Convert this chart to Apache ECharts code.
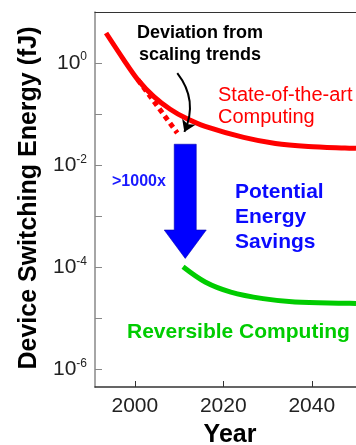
<!DOCTYPE html>
<html><head><meta charset="utf-8">
<script src="https://cdn.jsdelivr.net/npm/echarts@6/dist/echarts.min.js"></script>
<style>html,body{margin:0;padding:0;background:#fff}#c{width:356px;height:445px}</style>
</head><body><div id="c"></div>
<script>
// State-of-the-art computing (solid red)
const stateYears  = [1993.5, 1997.5, 2000.7, 2004.3, 2008.0, 2011.6, 2015.9, 2024.6, 2031.8, 2039.2, 2047.5, 2050];
const stateEnergy = [3.88, 1.16, 0.471, 0.221, 0.125, 0.0828, 0.0576, 0.0351, 0.0267, 0.0234, 0.0218, 0.0215];
// Scaling-trend extrapolation (dotted red)
const trendYears  = [2000.7, 2009.6];
const trendEnergy = [0.471, 0.043];
// Reversible computing (green)
const revYears  = [2010.9, 2015.9, 2021.7, 2029.0, 2036.2, 2047.7, 2050];
const revEnergy = [1.03e-4, 5.2e-5, 3.3e-5, 2.45e-5, 2.11e-5, 2.0e-5, 1.98e-5];
// Axes
const xTickYears  = [2000, 2020, 2040];
const yTickValues = [1e-6, 1e-5, 1e-4, 1e-3, 1e-2, 1e-1, 1];
const yLabelValues = [1e-6, 1e-4, 1e-2, 1];
// Annotation arrows: [year, shaft top, head base, tip]
const savingsArrow = [2011.4, 0.0258, 5.4e-4, 1.5e-4];
const deviationArrow = [[2009.6, 0.637], [2011.2, 0.045]];

const FONT = '"Liberation Sans", Arial, Helvetica, sans-serif';
const zip = (a, b) => a.map((v, i) => [v, b[i]]);

const chart = echarts.init(document.getElementById('c'), null, {renderer: 'canvas'});
chart.setOption({
  animation: false,
  backgroundColor: '#fff',
  grid: {left: 95, top: 12, bottom: 58, right: -10.5, containLabel: false},
  xAxis: [{
    type: 'value', min: 1991, max: 2050,
    axisLine: {show: true, lineStyle: {color: '#333', width: 1.5}},
    axisTick: {show: true, inside: true, length: 6, customValues: xTickYears, lineStyle: {color: '#333', width: 1}},
    axisLabel: {customValues: xTickYears, formatter: v => String(v), color: '#222', fontFamily: FONT, fontSize: 21, margin: 9},
    splitLine: {show: false}
  }, {
    type: 'value', min: 1991, max: 2050, position: 'top',
    axisLine: {show: true, onZero: false, lineStyle: {color: '#333', width: 1.2}},
    axisTick: {show: false}, axisLabel: {show: false}, splitLine: {show: false}
  }],
  yAxis: {
    type: 'log', logBase: 10, min: 4.57e-7, max: 10,
    axisLine: {show: true, lineStyle: {color: '#888', width: 1.5}},
    axisTick: {show: true, inside: true, length: 7, customValues: yTickValues, lineStyle: {color: '#888', width: 1}},
    axisLabel: {
      customValues: yLabelValues, margin: 8,
      formatter: v => '{b|10}{s|' + Math.round(Math.log10(v)) + '}',
      rich: {
        b: {fontFamily: FONT, fontSize: 21, color: '#222', lineHeight: 24},
        s: {fontFamily: FONT, fontSize: 12, color: '#222', verticalAlign: 'top', lineHeight: 14}
      }
    },
    splitLine: {show: false}
  },
  series: [
    {type: 'line', data: zip(stateYears, stateEnergy), smooth: 0.3, symbol: 'none',
     lineStyle: {color: '#ff0000', width: 5}, z: 3},
    {type: 'line', data: zip(trendYears, trendEnergy), smooth: false, symbol: 'none',
     lineStyle: {color: '#ff0000', width: 5, type: [5, 4]}, z: 3},
    {type: 'line', data: zip(revYears, revEnergy), smooth: 0.35, symbol: 'none',
     lineStyle: {color: '#00cc00', width: 5}, z: 3},
    {type: 'lines', coordinateSystem: 'cartesian2d', symbol: ['none', 'arrow'], symbolSize: 11,
     data: [{coords: deviationArrow}],
     lineStyle: {color: '#000', width: 2, curveness: 0.3, opacity: 1}, z: 4},
    {type: 'custom', data: [savingsArrow], z: 4,
     renderItem: (params, api) => {
       const top = api.coord([api.value(0), api.value(1)]);
       const base = api.coord([api.value(0), api.value(2)]);
       const tip = api.coord([api.value(0), api.value(3)]);
       const cx = top[0], sw = 11, hw = 21;
       return {type: 'polygon', shape: {points: [
         [cx - sw, top[1]], [cx + sw, top[1]], [cx + sw, base[1]], [cx + hw, base[1]],
         [cx, tip[1]], [cx - hw, base[1]], [cx - sw, base[1]]]},
         style: {fill: '#0000ff', stroke: '#0000b0', lineWidth: 0.6}};
     }}
  ],
  graphic: [
    {type: 'text', x: 29.5, y: 198, rotation: Math.PI / 2,
     style: {text: 'Device Switching Energy (fJ)', fontFamily: FONT, fontSize: 25, fontWeight: 'bold', fill: '#000', align: 'center', verticalAlign: 'middle'}},
    {type: 'text', x: 230, y: 435,
     style: {text: 'Year', fontFamily: FONT, fontSize: 25, fontWeight: 'bold', fill: '#000', align: 'center', verticalAlign: 'middle'}},
    {type: 'text', x: 200, y: 44,
     style: {text: 'Deviation from\nscaling trends', fontFamily: FONT, fontSize: 18, fontWeight: 'bold', fill: '#000', align: 'center', verticalAlign: 'middle', lineHeight: 22}},
    {type: 'text', x: 218, y: 106,
     style: {text: 'State-of-the-art\nComputing', fontFamily: FONT, fontSize: 20, fill: '#ff0000', align: 'left', verticalAlign: 'middle', lineHeight: 22}},
    {type: 'text', x: 112, y: 182,
     style: {text: '>1000x', fontFamily: FONT, fontSize: 16, fontWeight: 'bold', fill: '#1a1aff', align: 'left', verticalAlign: 'middle'}},
    {type: 'text', x: 235, y: 217.5,
     style: {text: 'Potential\nEnergy\nSavings', fontFamily: FONT, fontSize: 21, fontWeight: 'bold', fill: '#0a0aff', align: 'left', verticalAlign: 'middle', lineHeight: 25}},
    {type: 'text', x: 127, y: 332,
     style: {text: 'Reversible Computing', fontFamily: FONT, fontSize: 21, fontWeight: 'bold', fill: '#00cc00', align: 'left', verticalAlign: 'middle'}}
  ]
});
</script></body></html>
